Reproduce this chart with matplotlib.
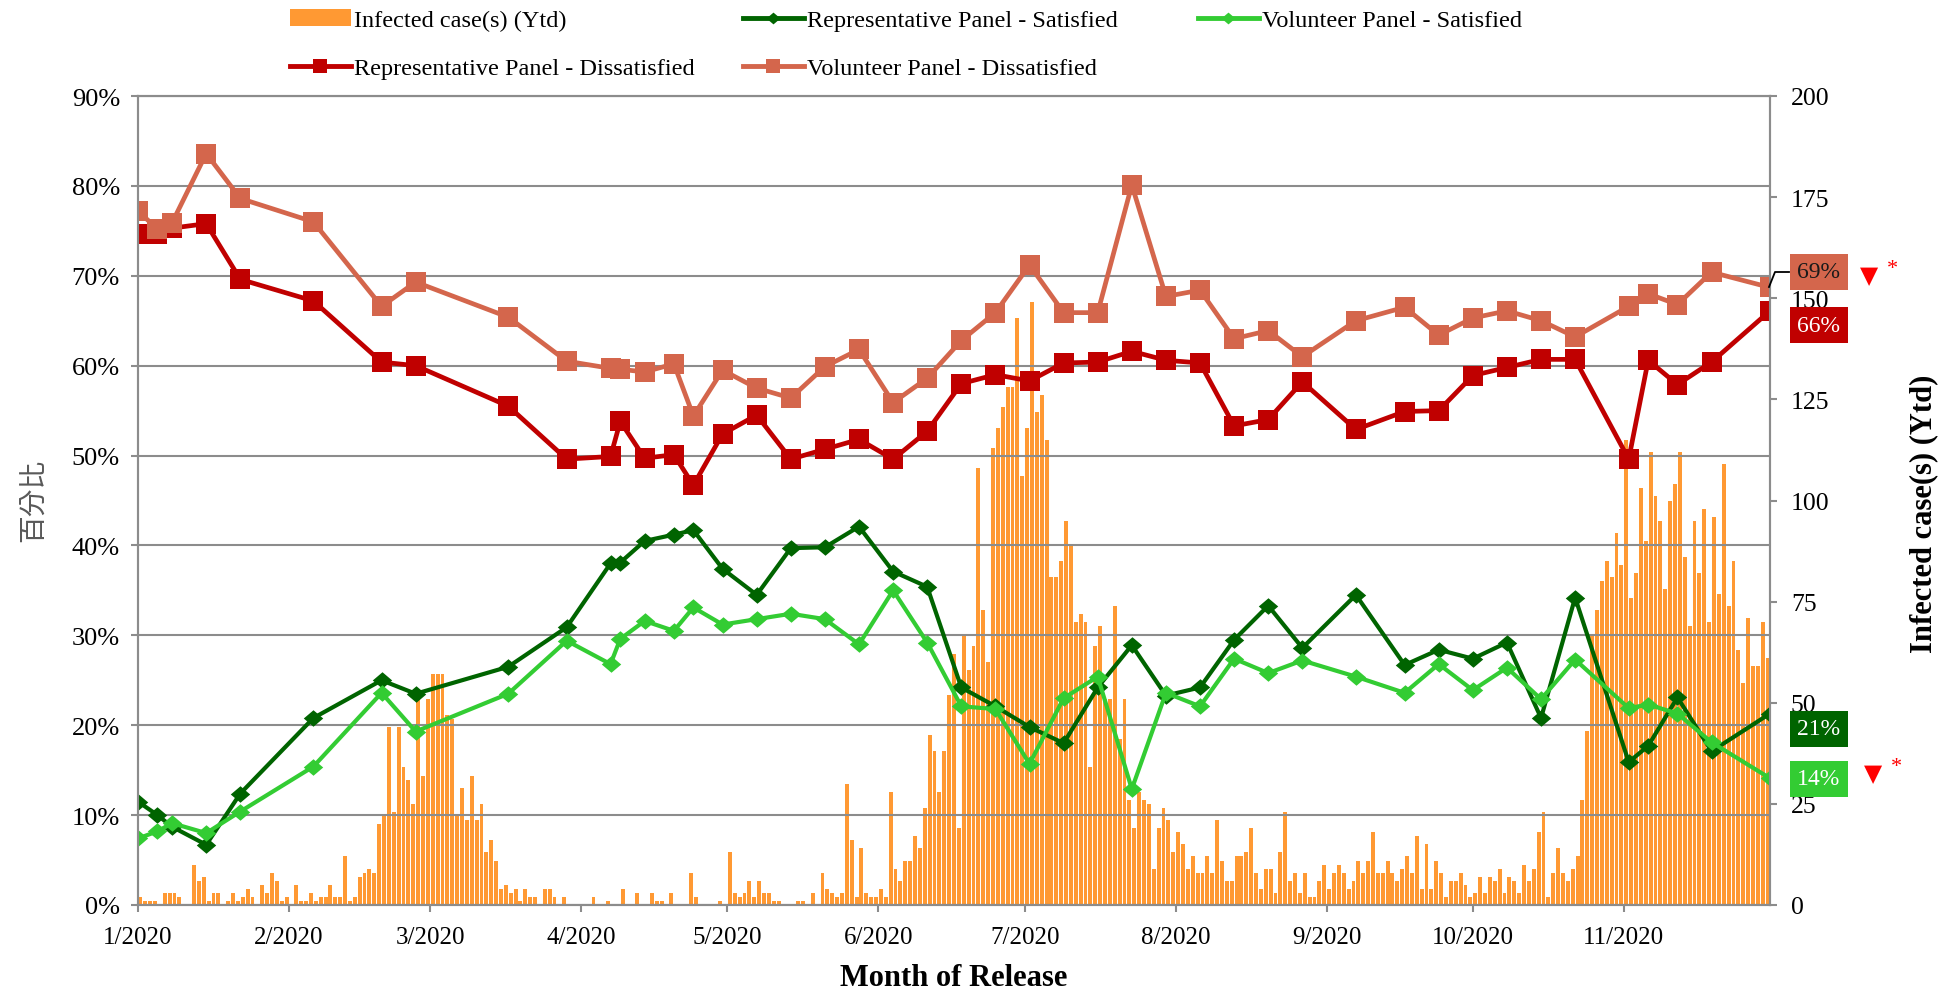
import numpy as np
import matplotlib
matplotlib.use("Agg")
import matplotlib.pyplot as plt
from matplotlib.lines import Line2D
from matplotlib.patches import Patch

plt.rcParams['font.family'] = ['Liberation Serif', 'DejaVu Sans']

# daily infected cases, one list per month (1 Jan - 30 Nov 2020)
jan_cases = [2, 1, 1, 1, 0, 3, 3, 3, 2, 0, 0, 10, 6, 7, 1, 3, 3, 0, 1, 3, 1, 2, 4, 2, 0, 5, 3, 8, 6, 1, 2]
feb_cases = [0, 5, 1, 1, 3, 1, 2, 2, 5, 2, 2, 12, 1, 2, 7, 8, 9, 8, 20, 22, 44, 23, 44, 34, 31, 25, 51, 32, 51]
mar_cases = [57, 57, 57, 47, 46, 22, 29, 21, 32, 21, 25, 13, 16, 11, 4, 5, 3, 4, 1, 4, 2, 2, 0, 4, 4, 2, 0, 2, 0, 0, 0]
apr_cases = [0, 0, 2, 0, 0, 1, 0, 0, 4, 0, 0, 3, 0, 0, 3, 1, 1, 0, 3, 0, 0, 0, 8, 2, 0, 0, 0, 0, 1, 0]
may_cases = [13, 3, 2, 3, 6, 2, 6, 3, 3, 1, 1, 0, 0, 0, 1, 1, 0, 3, 0, 8, 4, 3, 2, 3, 30, 16, 2, 14, 3, 2, 2]
jun_cases = [4, 2, 28, 9, 6, 11, 11, 17, 14, 24, 42, 38, 28, 38, 52, 62, 19, 67, 58, 64, 108, 73, 60, 113, 118,
             123, 128, 128, 145, 106]
jul_cases = [118, 149, 122, 126, 115, 81, 81, 85, 95, 89, 70, 72, 70, 34, 64, 69, 51, 51, 74, 41, 51, 26, 19, 28,
             26, 25, 9, 19, 24, 21, 13]
aug_cases = [18, 15, 9, 12, 8, 8, 12, 8, 21, 11, 6, 6, 12, 12, 13, 19, 8, 4, 9, 9, 3, 13, 23, 6, 8, 3, 8, 2, 2, 6, 10]
sep_cases = [4, 8, 10, 8, 4, 6, 11, 8, 11, 18, 8, 8, 11, 8, 6, 9, 12, 8, 17, 4, 15, 4, 11, 8, 2, 6, 6, 8, 5, 2]
oct_cases = [3, 7, 3, 7, 6, 9, 3, 7, 6, 3, 10, 6, 9, 18, 23, 2, 8, 14, 8, 6, 9, 12, 26, 43, 67, 73, 80, 85, 81, 92, 84]
nov_cases = [115, 76, 82, 103, 90, 112, 101, 95, 78, 100, 104, 112, 86, 69, 95, 82, 98, 70, 96, 77, 109, 74, 85,
             63, 55, 71, 59, 59, 70, 61]

# survey release dates and results (%)
release_dates = ['2020-01-01', '2020-01-05', '2020-01-08', '2020-01-15', '2020-01-22', '2020-02-06', '2020-02-20',
                 '2020-02-27', '2020-03-17', '2020-03-29', '2020-04-07', '2020-04-09', '2020-04-14', '2020-04-20',
                 '2020-04-24', '2020-04-30', '2020-05-07', '2020-05-14', '2020-05-21', '2020-05-28', '2020-06-04',
                 '2020-06-11', '2020-06-18', '2020-06-25', '2020-07-02', '2020-07-09', '2020-07-16', '2020-07-23',
                 '2020-07-30', '2020-08-06', '2020-08-13', '2020-08-20', '2020-08-27', '2020-09-07', '2020-09-17',
                 '2020-09-24', '2020-10-01', '2020-10-08', '2020-10-15', '2020-10-22', '2020-11-02', '2020-11-06',
                 '2020-11-12', '2020-11-19', '2020-12-01']
rep_satisfied = [11.5, 10.0, 8.7, 6.7, 12.4, 20.8, 25.0, 23.5, 26.5, 30.9, 38.0, 38.1, 40.5, 41.2, 41.7, 37.4,
                 34.5, 39.7, 39.8, 42.1, 37.1, 35.4, 24.2, 22.1, 19.8, 18.0, 24.2, 28.9, 23.3, 24.2, 29.5, 33.3,
                 28.6, 34.5, 26.7, 28.4, 27.4, 29.2, 20.8, 34.2, 15.9, 17.7, 23.1, 17.1, 21.3]
vol_satisfied = [7.4, 8.2, 9.1, 8.0, 10.4, 15.4, 23.6, 19.3, 23.5, 29.4, 26.8, 29.6, 31.6, 30.5, 33.1, 31.2,
                 31.8, 32.4, 31.8, 29.0, 35.0, 29.2, 22.1, 21.8, 15.7, 23.0, 25.4, 12.9, 23.6, 22.1, 27.4, 25.8,
                 27.2, 25.4, 23.6, 26.8, 23.9, 26.4, 22.9, 27.3, 21.9, 22.3, 21.3, 18.1, 14.1]
rep_dissatisfied = [74.6, 74.7, 75.3, 75.8, 69.6, 67.2, 60.4, 60.0, 55.5, 49.6, 49.9, 53.8, 49.7, 50.1, 46.7,
                    52.4, 54.5, 49.6, 50.7, 51.8, 49.6, 52.7, 58.0, 59.0, 58.3, 60.3, 60.4, 61.6, 60.6, 60.3,
                    53.3, 54.0, 58.2, 52.9, 54.9, 55.0, 58.9, 59.8, 60.7, 60.7, 49.6, 60.6, 57.9, 60.4, 66.1]
vol_dissatisfied = [77.2, 75.2, 75.9, 83.6, 78.6, 76.0, 66.6, 69.3, 65.4, 60.5, 59.7, 59.6, 59.3, 60.2, 54.4,
                    59.5, 57.5, 56.4, 59.9, 61.8, 55.9, 58.6, 62.8, 65.9, 71.2, 65.9, 65.9, 80.1, 67.7, 68.4,
                    63.0, 63.9, 61.0, 65.0, 66.5, 63.4, 65.3, 66.1, 65.0, 63.2, 66.6, 68.0, 66.8, 70.4, 68.7]

month_labels = ['1/2020', '2/2020', '3/2020', '4/2020', '5/2020', '6/2020', '7/2020', '8/2020', '9/2020',
                '10/2020', '11/2020']

daily_cases = (jan_cases + feb_cases + mar_cases + apr_cases + may_cases + jun_cases + jul_cases + aug_cases
               + sep_cases + oct_cases + nov_cases)

start = np.datetime64('2020-01-01', 'D')
bar_days = np.arange(len(daily_cases))
survey_days = (np.array(release_dates, dtype='datetime64[D]') - start).astype(int)
month_days = (np.arange('2020-01', '2020-12', dtype='datetime64[M]').astype('datetime64[D]') - start).astype(int)
end_day = (np.datetime64('2020-12-01', 'D') - start).astype(int)

ORANGE = '#FF9933'
DGREEN = '#006400'
LGREEN = '#33CC33'
RED = '#C00000'
SALMON = '#D4664C'
GREY = '#8C8C8C'
diamond = [(-1, 0), (0, 0.85), (1, 0), (0, -0.85), (-1, 0)]

W, H = 1955, 995
X0, X1, Y0, Y1 = 138, 1770, 97, 906   # plot area in pixels
fig = plt.figure(figsize=(W / 100, H / 100), dpi=100)
ax = fig.add_axes([X0 / W, 1 - Y1 / H, (X1 - X0) / W, (Y1 - Y0) / H])
ax2 = ax.twinx()

# bars on the secondary axis
ax2.bar(bar_days + 0.1, daily_cases, width=0.8, align='edge', color=ORANGE, linewidth=0)
ax2.set_ylim(0, 200)
ax2.set_yticks(range(0, 201, 25))
ax2.tick_params(axis='y', direction='out', length=5, width=1.5, color=GREY, labelsize=18.5, pad=10)

ax.set_zorder(ax2.get_zorder() + 1)
ax.patch.set_visible(False)

ax.plot(survey_days, rep_satisfied, color=DGREEN, lw=3.0, marker=diamond, ms=14, mew=0)
ax.plot(survey_days, vol_satisfied, color=LGREEN, lw=3.0, marker=diamond, ms=14, mew=0)
ax.plot(survey_days, rep_dissatisfied, color=RED, lw=3.4, marker='s', ms=15, mew=0)
ax.plot(survey_days, vol_dissatisfied, color=SALMON, lw=3.4, marker='s', ms=15, mew=0)

ax.set_xlim(0, end_day)
ax.set_ylim(0, 90)
ax.set_yticks(np.arange(0, 91, 10))
ax.set_yticklabels([f'{v}%' for v in range(0, 91, 10)])
ax.set_xticks(month_days)
ax.set_xticklabels(month_labels)
ax.yaxis.grid(True, color=GREY, lw=1.5)
ax.set_axisbelow(True)
ax.tick_params(axis='y', direction='out', length=5, width=1.5, color=GREY, labelsize=19, pad=8)
ax.tick_params(axis='x', direction='out', length=5, width=1.5, color=GREY, labelsize=18, pad=10)
for a in (ax, ax2):
    for s in a.spines.values():
        s.set_color(GREY)
        s.set_linewidth(1.5)

pw, ph = X1 - X0, Y1 - Y0
ax.set_xlabel('Month of Release', fontsize=22, fontweight='bold')
ax.xaxis.set_label_coords((954 - X0) / pw, (Y1 - 979) / ph)
ax.xaxis.label.set_va('center')
ax.set_ylabel('百分比', fontsize=20, color='#595959', family=['Noto Sans CJK TC', 'DejaVu Sans'])
ax.yaxis.set_label_coords((34 - X0) / pw, (Y1 - 500) / ph)
ax.yaxis.label.set_va('center')
ax2.set_ylabel('Infected case(s) (Ytd)', fontsize=22, fontweight='bold')
ax2.yaxis.set_label_coords((1924 - X0) / pw, (Y1 - 514) / ph)
ax2.yaxis.label.set_va('center')

# end-of-series value boxes
labels = [(vol_dissatisfied[-1], SALMON, '#1a1a1a', 273),
          (rep_dissatisfied[-1], RED, 'white', 326),
          (rep_satisfied[-1], DGREEN, 'white', 730),
          (vol_satisfied[-1], LGREEN, 'white', 780)]
for val, bg, fg, ypix in labels:
    fig.text(1819 / W, 1 - ypix / H, f'{round(val)}%', ha='center', va='center', fontsize=17, color=fg,
             bbox=dict(boxstyle='square,pad=0.3', fc=bg, ec='none'))
fig.add_artist(Line2D([1769 / W, 1775 / W, 1789 / W], [1 - 288 / H, 1 - 273 / H, 1 - 273 / H],
                      color='black', lw=1.3))
for xpix, ypix in [(1869, 276), (1873, 774)]:
    fig.text(xpix / W, 1 - ypix / H, '▼', ha='center', va='center', fontsize=17, color='red',
             family='DejaVu Sans')
    fig.text((xpix + 23) / W, 1 - (ypix - 7) / H, '*', ha='center', va='center', fontsize=16, color='red')

# legend, laid out like the spreadsheet one
entries = [
    (Patch(facecolor=ORANGE), 'Infected case(s) (Ytd)', 290, 21),
    (Line2D([], [], color=DGREEN, lw=3.5, marker=diamond, ms=10, mew=0), 'Representative Panel - Satisfied', 743, 21),
    (Line2D([], [], color=LGREEN, lw=3.5, marker=diamond, ms=10, mew=0), 'Volunteer Panel - Satisfied', 1198, 21),
    (Line2D([], [], color=RED, lw=3.5, marker='s', ms=10, mew=0), 'Representative Panel - Dissatisfied', 290, 69),
    (Line2D([], [], color=SALMON, lw=3.5, marker='s', ms=10, mew=0), 'Volunteer Panel - Dissatisfied', 743, 69),
]
for h, lab, xpix, ypix in entries:
    fig.legend([h], [lab], loc='center left', bbox_to_anchor=(xpix / W, 1 - ypix / H), frameon=False,
               fontsize=17.5, handlelength=2.5, handletextpad=0.15, borderpad=0, borderaxespad=0)

fig.savefig('out.png', dpi=100)
